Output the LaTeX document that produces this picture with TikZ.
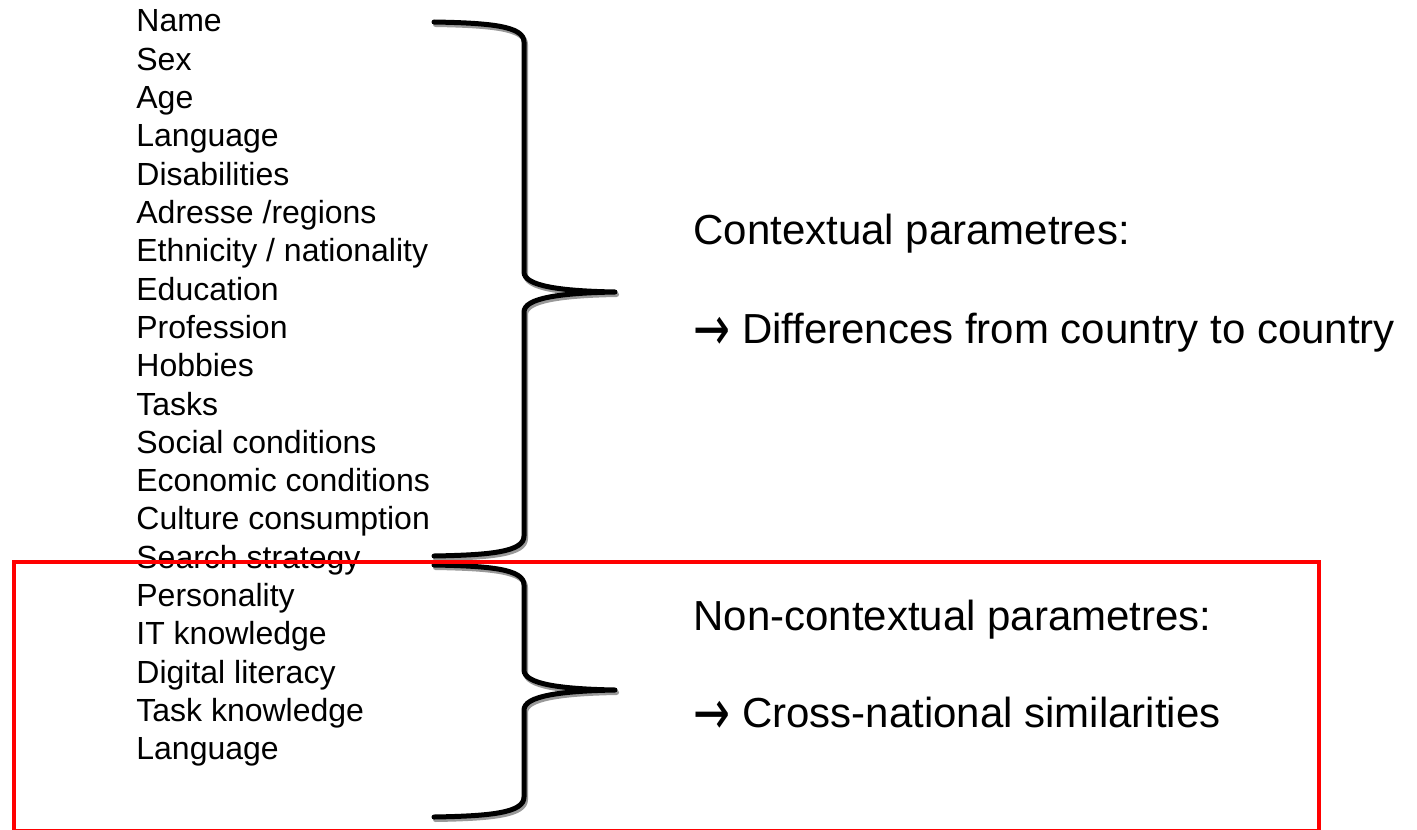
\documentclass[tikz,border=0pt]{standalone}
\usepackage{fontspec}
\setmainfont{Liberation Sans}
\newfontfamily\arrowfont{DejaVu Sans}
\usepackage{graphicx}
\usepackage{xcolor}
\usepackage{tikz}

% arrow sign in front of a conclusion
\newcommand\conclarrow{{\arrowfont\raisebox{-0.18em}{\scalebox{1.05}[1.5]{→}}}}

% one curly brace: top end, tip, bottom end (y in px)
\newcommand\drawcurly[3]{%
  \foreach \sh/\col in {{(1.5,2.5)}/black!40, {(0,0)}/black}
    \draw[curly, draw=\col, shift=\sh]
      (434,#1) .. controls (490,{#1+1}) and (524,{#1+4}) .. (524,{#1+20})
      -- (524,{#2-20}) .. controls (524,{#2-6}) and (560,{#2-1}) .. (615,#2)
      .. controls (560,{#2+1}) and (524,{#2+6}) .. (524,{#2+20})
      -- (524,{#3-20}) .. controls (524,{#3-4}) and (490,{#3-1}) .. (434,#3);%
}

\begin{document}
\begin{tikzpicture}[
  x=0.5pt, y=-0.5pt,
  item/.style={anchor=base west, inner sep=0pt, font=\fontsize{16}{19}\selectfont},
  note/.style={anchor=base west, inner sep=0pt, font=\fontsize{21}{25}\selectfont},
  curly/.style={line width=2.5pt, line cap=round, line join=round},
  redframe/.style={draw=red, line width=2.3pt}]
\useasboundingbox (0,0) rectangle (1417,829);
\fill[white] (0,0) rectangle (1417,829);
% list of parameters
\foreach \txt [count=\i] in {Name, Sex, Age, Language, Disabilities,
    Adresse /regions, Ethnicity / nationality, Education, Profession,
    Hobbies, Tasks, Social conditions, Economic conditions,
    Culture consumption, Search strategy, Personality, IT knowledge,
    Digital literacy, Task knowledge, Language}
  \node[item] (it\i) at (136,{32+38.3*(\i-1)}) {\txt};
% braces
\drawcurly{22}{292}{556}
\drawcurly{565}{690}{817}
% explanations
\node[note] (ctx) at (693,244) {Contextual parametres:};
\node[note] (ctxnote) at (693,343) {\conclarrow\ Differences from country to country};
\node[note] (nonctx) at (693,630) {Non-contextual parametres:};
\node[note] (nonctxnote) at (693,727) {\conclarrow\ Cross-national similarities};
% frame round the non-contextual part
\draw[redframe] (14,562) rectangle (1319,831);
\end{tikzpicture}
\end{document}
